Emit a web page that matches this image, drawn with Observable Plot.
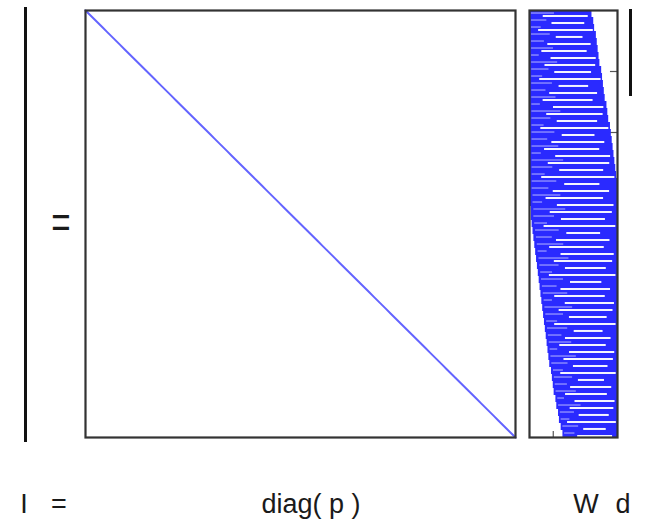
<!DOCTYPE html>
<html>
<head>
<meta charset="utf-8">
<script src="https://cdn.jsdelivr.net/npm/d3@7"></script>
<script src="https://cdn.jsdelivr.net/npm/@observablehq/plot@0.6"></script>
<style>
  html, body { margin: 0; padding: 0; background: #fff; }
  #wrap { position: relative; width: 645px; height: 519px; overflow: hidden; background: #fff; }
  #wrap > * { position: absolute; }
  .lbl { font-family: "Liberation Sans", Arial, sans-serif; font-size: 27px; line-height: 27px; color: #1a1a1a; white-space: pre; transform: translateX(-50%); }
</style>
</head>
<body>
<div id="wrap"></div>
<script>
// ---- data ----
const n = 100;                       // size of the diagonal matrix diag(p)
const wRowsMax = 700;                // rows of W (y extent)
const wColsMax = 100;                // columns of W (x extent, percent)
// nonzero span of each row band of W (start / end column, percent of width)
const wStart = [0,0,0,0,0,0,0,0,0,0,0,0,0,0,0,0,0,0,0,0,0,0,0,0,0,0,1,1,2,2,3,4,5,6,7,8,9,10,11,12,13,14,15,16,17,18,19,20,21,22,23,25,26,27,28,30,31,33,34,36,38];
const wEnd   = [71,73,74,76,77,78,79,80,82,83,84,85,86,88,89,90,92,93,94,95,96,97,98,99,100,100,100,100,100,100,100,100,100,100,100,100,100,100,100,100,100,100,100,100,100,100,100,100,100,100,100,100,100,100,100,100,100,100,100,100,100];
const wTicksY = [100, 200, 300, 400, 500, 600];
const wTicksX = [27];
const dLength = 0.2;                 // fraction of full height covered by d
const labels = [
  {text: "I", x: 24}, {text: "=", x: 59}, {text: "diag( p )", x: 311},
  {text: "W", x: 586}, {text: "d", x: 623}
];
// stroke styles for the light streaks inside W's row bands
const streakDash = ["26,3,9,2", "14,2,20,4", "34,3,5,2", "9,3,22,2", "18,4,12,2", "40,3,6,3", "12,2,7,3"];
const streakFrom = [0.22, 0.35, 0.14, 0.4, 0.27, 0.18, 0.31];
const streakTo   = [0.06, 0.14, 0.02, 0.2, 0.09, 0.16, 0.04];

const wrap = document.getElementById("wrap");
const place = (el, left, top) => { el.style.left = left + "px"; el.style.top = top + "px"; wrap.appendChild(el); };

// ---- I vector ----
const pI = Plot.plot({
  width: 10, height: 435, margin: 0,
  x: {domain: [-1, 1], axis: null},
  y: {domain: [0, n], axis: null, reverse: true},
  marks: [Plot.ruleX([0], {y1: 0, y2: n, stroke: "#111", strokeWidth: 3})]
});
place(pI, 20, 7);

// ---- diag(p) ----
const diagIdx = d3.range(n + 1);
const pD = Plot.plot({
  width: 434, height: 431, margin: 2,
  x: {domain: [0, n], axis: null},
  y: {domain: [0, n], axis: null, reverse: true},
  marks: [
    Plot.line(diagIdx, {x: d => d, y: d => d, stroke: "#6464ff", strokeWidth: 2}),
    Plot.frame({stroke: "#333", strokeWidth: 2.2})
  ]
});
place(pD, 83, 8);

// ---- W ----
const nb = wStart.length;
const bandH = wRowsMax / nb;
const wRows = wStart.map((s, i) => ({s, e: wEnd[i], i, y1: i * bandH, y2: (i + 1) * bandH}));
const pick = (arr, i) => arr[i % arr.length];
const pW = Plot.plot({
  width: 92, height: 431, margin: 2,
  x: {domain: [0, wColsMax], axis: null},
  y: {domain: [0, wRowsMax], axis: null, reverse: true},
  marks: [
    Plot.ruleY(wTicksY, {x1: wColsMax - 8, x2: wColsMax, stroke: "#555", strokeWidth: 1.2}),
    Plot.ruleX(wTicksX, {y1: wRowsMax - 10, y2: wRowsMax, stroke: "#555", strokeWidth: 1.2}),
    Plot.rect(wRows, {x1: "s", x2: "e", y1: "y1", y2: "y2", fill: "#2a2aff"}),
    Plot.ruleY(wRows, {
      y: d => d.y2 - bandH * 0.22,
      x1: d => d.s + (d.e - d.s) * pick(streakFrom, d.i),
      x2: d => d.e - (d.e - d.s) * pick(streakTo, d.i),
      stroke: "#ffffff", strokeWidth: 2, strokeOpacity: 0.95,
      strokeDasharray: d => pick(streakDash, d.i)
    }),
    Plot.ruleY(wRows, {
      y: d => d.y2 - bandH * 0.64,
      x1: d => d.s + (d.e - d.s) * 0.03,
      x2: d => d.s + (d.e - d.s) * pick(streakFrom, d.i + 3),
      stroke: "#ffffff", strokeWidth: 1.1, strokeOpacity: 0.6,
      strokeDasharray: d => pick(streakDash, d.i + 2)
    }),
    Plot.frame({stroke: "#333", strokeWidth: 2.2})
  ]
});
place(pW, 527, 8);

// ---- d vector ----
const pd = Plot.plot({
  width: 10, height: 435, margin: 0,
  x: {domain: [-1, 1], axis: null},
  y: {domain: [0, 1], axis: null, reverse: true},
  marks: [Plot.ruleX([0], {y1: 0, y2: dLength, stroke: "#111", strokeWidth: 3})]
});
place(pd, 625, 9);

// ---- "=" between I and diag(p) ----
const eq = document.createElement("div");
eq.className = "lbl";
eq.textContent = "=";
eq.style.fontSize = "46px";
eq.style.lineHeight = "46px";
eq.style.transform = "translateX(-50%) scaleX(0.72)";
place(eq, 61, 199);

// ---- bottom labels ----
labels.forEach(l => {
  const s = document.createElement("div");
  s.className = "lbl";
  s.textContent = l.text;
  place(s, l.x, 491);
});
</script>
</body>
</html>
